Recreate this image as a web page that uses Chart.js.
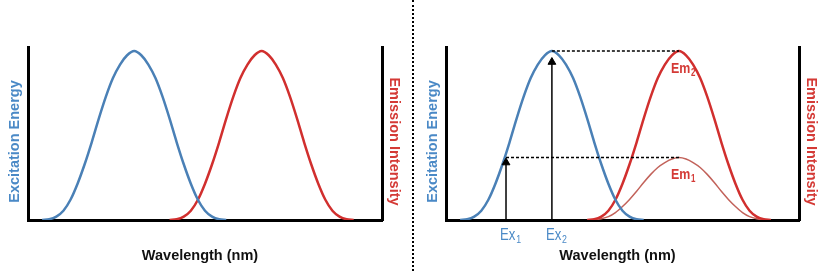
<!DOCTYPE html>
<html>
<head>
<meta charset="utf-8">
<script src="https://cdn.jsdelivr.net/npm/chart.js@4.4.1/dist/chart.umd.min.js"></script>
<style>
  html, body { margin: 0; padding: 0; background: #fff; }
  #wrap { position: relative; width: 830px; height: 271px; overflow: hidden; background: #fff; }
  #c1 { position: absolute; left: 0; top: 0; }
  #c2 { position: absolute; left: 415px; top: 0; }
  #divider { position: absolute; left: 412px; top: 0; height: 271px; border-left: 2px dotted #000; }
</style>
</head>
<body>
<div id="wrap">
  <canvas id="c1" width="413" height="271"></canvas>
  <div id="divider"></div>
  <canvas id="c2" width="415" height="271"></canvas>
</div>
<script>
// ---- data (arbitrary wavelength units 0-100) ----
const wavelengths = [0,2,4,6,8,10,12,14,16,18,20,22,24,26,28,30,32,34,36,38,40,42,44,46,48,50,52,54,56,58,60,62,64,66,68,70,72,74,76,78,80,82,84,86,88,90,92,94,96,98,100];
const excitation = [null,null,0,0.4,2,5.5,12,21.5,33,46,60,73,84,92,97.5,100,97.5,92,84,73,60,46,33,21.5,12,5.5,2,0.4,0,null,null,null,null,null,null,null,null,null,null,null,null,null,null,null,null,null,null,null,null,null,null];
const emission = [null,null,null,null,null,null,null,null,null,null,null,null,null,null,null,null,null,null,null,null,0,0.4,2,5.5,12,21.5,33,46,60,73,84,92,97.5,100,97.5,92,84,73,60,46,33,21.5,12,5.5,2,0.4,0,null,null,null,null];
const emissionLow = [null,null,null,null,null,null,null,null,null,null,null,null,null,null,null,null,null,null,null,null,0,0.15,0.75,2,4.4,8,12.2,17,22.2,27,31.1,34,36.1,37,36.1,34,31.1,27,22.2,17,12.2,8,4.4,2,0.75,0.15,0,null,null,null,null];
const exLabels = ['Ex', 'Ex'];
const exSubs = ['1', '2'];
const exWavelengths = [17, 30];        // excitation wavelengths of the two arrows
const exArrowTops = [34, 93.5];        // arrow heights
const emLabels = ['Em', 'Em'];
const emSubs = ['1', '2'];
const emPeakWavelength = 66;
const emPeaks = [37, 100];             // emission peak heights for Ex1, Ex2
const exPeakWavelength = 30;
const xTitle = 'Wavelength (nm)';
const yLeftTitle = 'Excitation Energy';
const yRightTitle = 'Emission Intensity';

const BLUE = '#4a80b6';
const RED = '#d12f2e';
const RED_THIN = '#c2625a';
const BLUE_TXT = '#4a89c6';
const RED_TXT = '#d43a36';
const FONT = '"Liberation Sans", Arial, sans-serif';
const TITLE_FONT = 'bold 14.5px ' + FONT;

function series(vals) {
  const out = [];
  wavelengths.forEach((w, i) => { if (vals[i] !== null) out.push({x: w, y: vals[i]}); });
  return out;
}

function curve(vals, color, width) {
  return {
    data: series(vals), borderColor: color, borderWidth: width,
    pointRadius: 0, fill: false, cubicInterpolationMode: 'monotone', order: 5
  };
}

// axis titles drawn as text, positioned relative to the chart area
const titlePlugin = {
  id: 'axisTitles',
  afterDraw(chart) {
    const ctx = chart.ctx, a = chart.chartArea;
    const midY = (a.top + a.bottom) / 2 + 8;
    ctx.save();
    ctx.textAlign = 'center';
    ctx.textBaseline = 'middle';
    ctx.font = TITLE_FONT;
    // x title
    ctx.fillStyle = '#111';
    ctx.fillText(xTitle, (a.left + a.right) / 2 - 5, a.bottom + 36);
    // left y title
    ctx.save();
    ctx.translate(a.left - 13, midY);
    ctx.rotate(-Math.PI / 2);
    ctx.fillStyle = BLUE_TXT;
    ctx.fillText(yLeftTitle, 0, 0);
    ctx.restore();
    // right y title
    ctx.save();
    ctx.translate(a.right + 12, midY);
    ctx.rotate(Math.PI / 2);
    ctx.fillStyle = RED_TXT;
    ctx.fillText(yRightTitle, 0, 0);
    ctx.restore();
    ctx.restore();
  }
};

function baseOptions(leftAxisWidth, rightAxisWidth) {
  return {
    responsive: false, animation: false, devicePixelRatio: 1,
    layout: { padding: { top: 47, left: 0, right: 0, bottom: 0 } },
    plugins: { legend: { display: false }, tooltip: { enabled: false } },
    scales: {
      x: {
        type: 'linear', min: 0, max: 100, position: 'bottom',
        grid: { display: false }, ticks: { display: false },
        border: { display: true, color: '#000', width: 3 },
        afterFit: s => { s.height = 51; }
      },
      y: {
        type: 'linear', min: 0, max: 102.4, position: 'left',
        grid: { display: false }, ticks: { display: false },
        border: { display: true, color: '#000', width: 3 },
        afterFit: s => { s.width = leftAxisWidth; }
      },
      y2: {
        type: 'linear', min: 0, max: 102.4, position: 'right',
        grid: { display: false }, ticks: { display: false },
        border: { display: true, color: '#000', width: 3 },
        afterFit: s => { s.width = rightAxisWidth; }
      }
    }
  };
}

// left chart
new Chart(document.getElementById('c1'), {
  type: 'line',
  data: { datasets: [ curve(excitation, BLUE, 2.5), curve(emission, RED, 2.5) ] },
  options: baseOptions(28, 31),
  plugins: [titlePlugin]
});

// labels plugin for the right chart (condensed look via horizontal scale)
const labelPlugin = {
  id: 'subLabels',
  afterDatasetsDraw(chart) {
    const ctx = chart.ctx;
    const xs = chart.scales.x, ys = chart.scales.y;
    const drawSub = (main, sub, x, y, color, weight, size) => {
      ctx.save();
      ctx.translate(x, y);
      ctx.scale(0.8, 1);
      ctx.fillStyle = color;
      ctx.textBaseline = 'alphabetic';
      ctx.textAlign = 'left';
      ctx.font = weight + ' ' + size + 'px ' + FONT;
      ctx.fillText(main, 0, 0);
      const w = ctx.measureText(main).width;
      ctx.font = weight + ' ' + Math.round(size * 0.66) + 'px ' + FONT;
      ctx.fillText(sub, w + 1, 3);
      ctx.restore();
    };
    exWavelengths.forEach((w, i) => {
      const px = xs.getPixelForValue(w);
      drawSub(exLabels[i], exSubs[i], px - 6, chart.chartArea.bottom + 20, BLUE_TXT, 'normal', 16.5);
    });
    emPeaks.forEach((p, i) => {
      const px = xs.getPixelForValue(emPeakWavelength);
      drawSub(emLabels[i], emSubs[i], px - 8, ys.getPixelForValue(p) + 22, RED_TXT, 'bold', 15.5);
    });
  }
};

const dotted = (pts) => ({
  data: pts, borderColor: '#000', borderWidth: 1.5, borderDash: [3, 2],
  pointRadius: 0, fill: false, order: 2
});
const arrow = (x, top) => ({
  data: [{x: x, y: 0}, {x: x, y: top}], borderColor: '#000', borderWidth: 1.5,
  pointRadius: [0, 4.5], pointStyle: 'triangle', pointBackgroundColor: '#000',
  pointBorderColor: '#000', pointBorderWidth: 1, fill: false, order: 1
});

new Chart(document.getElementById('c2'), {
  type: 'line',
  data: { datasets: [
    curve(excitation, BLUE, 2.5),
    curve(emission, RED, 2.5),
    curve(emissionLow, RED_THIN, 1.5),
    dotted([{x: exPeakWavelength, y: emPeaks[1]}, {x: emPeakWavelength, y: emPeaks[1]}]),
    dotted([{x: exWavelengths[0], y: emPeaks[0]}, {x: emPeakWavelength, y: emPeaks[0]}]),
    arrow(exWavelengths[0], exArrowTops[0]),
    arrow(exWavelengths[1], exArrowTops[1])
  ] },
  options: baseOptions(31, 31),
  plugins: [titlePlugin, labelPlugin]
});
</script>
</body>
</html>
